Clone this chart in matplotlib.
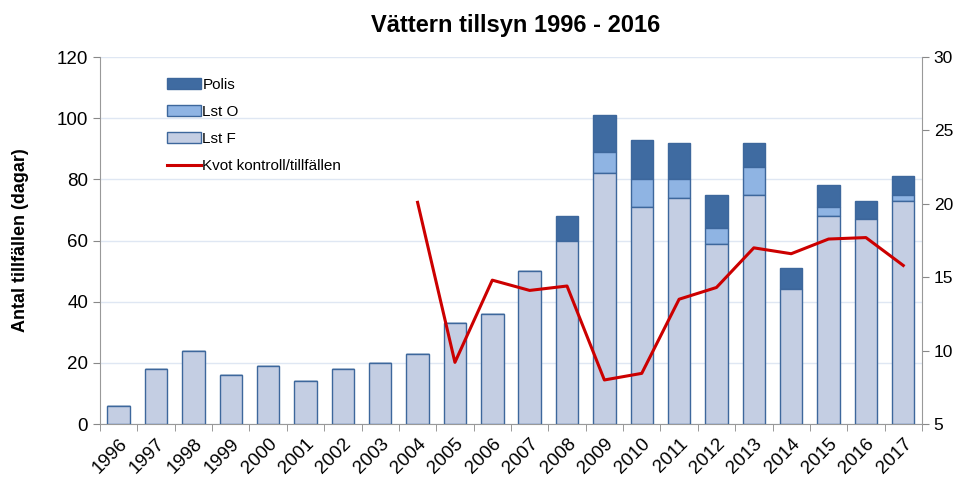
import numpy as np
import matplotlib.pyplot as plt

years = [str(y) for y in range(1996, 2018)]
lst_f = [6, 18, 24, 16, 19, 14, 18, 20, 23, 33, 36, 50, 60, 82, 71, 74, 59, 75, 44, 68, 67, 73]
lst_o = [0, 0, 0, 0, 0, 0, 0, 0, 0, 0, 0, 0, 0, 7, 9, 6, 5, 9, 0, 3, 0, 2]
polis = [0, 0, 0, 0, 0, 0, 0, 0, 0, 0, 0, 0, 8, 12, 13, 12, 11, 8, 7, 7, 6, 6]
kvot_years = years[8:]
kvot = [20.1, 9.2, 14.8, 14.1, 14.4, 8.0, 8.45, 13.5, 14.3, 17.0, 16.6, 17.6, 17.7, 15.8]

plt.rcParams['font.family'] = ['Liberation Sans', 'DejaVu Sans']

fig = plt.figure(figsize=(9.55, 4.79), dpi=100)
ax = fig.add_axes([0.1047, 0.1148, 0.8607, 0.7662])

x = np.arange(len(years))
edge = '#3d679c'
w = 0.6
lst_f = np.array(lst_f)
lst_o = np.array(lst_o)
polis = np.array(polis)
b3 = ax.bar(x, polis, w, bottom=lst_f + lst_o, color='#3f6ba1', edgecolor=edge, linewidth=1, label='Polis', zorder=3)
b2 = ax.bar(x, lst_o, w, bottom=lst_f, color='#8fb4e3', edgecolor=edge, linewidth=1, label='Lst O', zorder=3)
b1 = ax.bar(x, lst_f, w, color='#c4cee3', edgecolor=edge, linewidth=1, label='Lst F', zorder=3)

ax.set_ylim(0, 120)
ax.set_yticks(range(0, 121, 20))
ax.set_xlim(-0.5, len(years) - 0.5)
ax.grid(axis='y', color='#dfe7f3', linewidth=1, zorder=0)
ax.set_xticks(x)
ax.set_xticklabels(years, rotation=45, ha='right', rotation_mode='anchor', fontsize=13.5)
ax.set_xticks(np.arange(-0.5, len(years) + 0.5, 1), minor=True)
ax.tick_params(axis='x', which='major', length=0, pad=8)
ax.tick_params(axis='x', which='minor', length=5, color='#888888')
ax.tick_params(axis='y', labelsize=13.5, length=5, color='#888888')
ax.set_ylabel('Antal tillfällen (dagar)', fontsize=13, fontweight='bold', labelpad=20)
for s in ['top', 'right']:
    ax.spines[s].set_visible(False)
for s in ['left', 'bottom']:
    ax.spines[s].set_color('#999999')

ax2 = ax.twinx()
ln, = ax2.plot(x[8:], kvot, color='#cc0000', linewidth=2.2, label='Kvot kontroll/tillfällen', zorder=4)
ax2.set_ylim(5, 30)
ax2.set_yticks(range(5, 31, 5))
ax2.tick_params(axis='y', labelsize=12.5, length=5, color='#888888')
for s in ['top', 'left', 'bottom']:
    ax2.spines[s].set_visible(False)
ax2.spines['right'].set_color('#999999')

leg = ax.legend(handles=[b3, b2, b1, ln], loc='upper left', bbox_to_anchor=(0.065, 0.98),
                frameon=False, fontsize=11, handlelength=2.2, handleheight=0.7,
                handletextpad=0.1, labelspacing=0.85)

fig.suptitle('Vättern tillsyn 1996 - 2016', fontsize=17, fontweight='bold', x=0.54, y=0.97)

fig.savefig('out.png', dpi=100)
